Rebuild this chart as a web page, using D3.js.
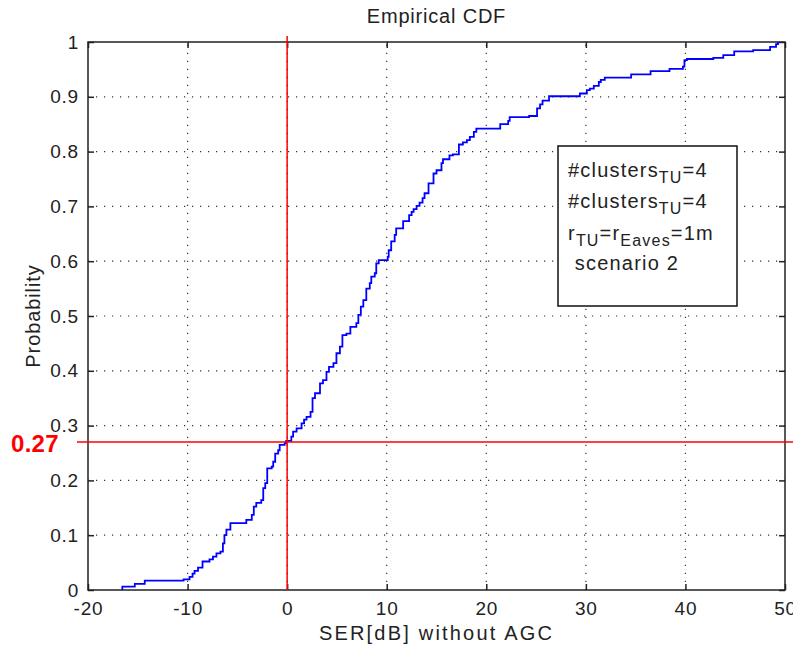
<!DOCTYPE html>
<html>
<head>
<meta charset="utf-8">
<script src="https://cdn.jsdelivr.net/npm/d3@7"></script>
<style>
  html, body { margin: 0; padding: 0; background: #fff; }
  svg { display: block; }
  text { font-family: "Liberation Sans", Arial, sans-serif; fill: #222; }
</style>
</head>
<body>
<svg id="chart" width="793" height="650"></svg>
<script>
// Empirical CDF of SER (dB) without AGC: step breakpoints and cumulative levels
const serSteps = [-16.55, -16.55, -15.3, -14.3, -10.4, -9.8, -9.5, -9.3, -8.95, -8.5,
  -7.8, -7.45, -7.1, -6.7, -6.45, -6.3, -6.1, -5.7, -4.1, -3.55,
  -3.35, -3.1, -2.6, -2.4, -2.2, -2.0, -1.55, -1.4, -1.2, -0.9,
  -0.75, -0.25, -0.1, 0.42, 0.6, 0.95, 1.45, 1.7, 1.95, 2.35,
  2.55, 2.8, 3.3, 3.6, 3.95, 4.2, 4.65, 4.95, 5.3, 5.55,
  5.95, 6.35, 6.95, 7.15, 7.4, 7.65, 7.95, 8.3, 8.45, 8.8,
  8.95, 9.2, 10.1, 10.2, 10.45, 10.8, 10.95, 11.65, 12.25, 12.5,
  12.7, 13.0, 13.3, 13.6, 13.8, 14.2, 14.7, 15.0, 15.5, 15.65,
  16.3, 16.65, 17.25, 17.65, 18.05, 18.35, 18.75, 19.0, 21.4, 22.2,
  22.35, 24.3, 25.1, 25.4, 25.65, 26.3, 29.4, 30.1, 30.4, 30.8,
  31.3, 31.5, 31.9, 34.55, 36.5, 38.4, 39.75, 39.9, 40.15, 42.8,
  43.8, 44.9, 46.8, 48.5, 49.1, 49.3];
const cdfLevels = [0, 0.006, 0.011, 0.017, 0.0195, 0.024, 0.030, 0.035, 0.041, 0.052,
  0.056, 0.061, 0.067, 0.070, 0.085, 0.100, 0.110, 0.122, 0.128, 0.137,
  0.152, 0.159, 0.164, 0.186, 0.195, 0.222, 0.225, 0.234, 0.249, 0.255,
  0.265, 0.268, 0.272, 0.280, 0.289, 0.295, 0.304, 0.311, 0.316, 0.325,
  0.350, 0.359, 0.377, 0.383, 0.398, 0.407, 0.414, 0.432, 0.444, 0.465,
  0.468, 0.480, 0.487, 0.502, 0.517, 0.529, 0.550, 0.560, 0.572, 0.578,
  0.596, 0.602, 0.608, 0.620, 0.636, 0.648, 0.660, 0.673, 0.684, 0.690,
  0.695, 0.701, 0.707, 0.715, 0.724, 0.742, 0.760, 0.766, 0.779, 0.786,
  0.793, 0.795, 0.813, 0.817, 0.821, 0.827, 0.836, 0.842, 0.850, 0.856,
  0.863, 0.865, 0.879, 0.886, 0.893, 0.901, 0.906, 0.912, 0.915, 0.920,
  0.927, 0.931, 0.935, 0.941, 0.947, 0.951, 0.955, 0.967, 0.969, 0.971,
  0.976, 0.983, 0.985, 0.991, 0.996, 1.0];

const xTicks = [-20, -10, 0, 10, 20, 30, 40, 50];
const yTicks = [0, 0.1, 0.2, 0.3, 0.4, 0.5, 0.6, 0.7, 0.8, 0.9, 1];
const markerX = 0;
const markerP = 0.27;
const legendLines = [
  [["#clusters", false], ["TU", true], ["=4", false]],
  [["#clusters", false], ["TU", true], ["=4", false]],
  [["r", false], ["TU", true], ["=r", false], ["Eaves", true], ["=1m", false]],
  [["\u00a0scenario 2", false]]
];

const svg = d3.select("#chart");
const plotL = 88, plotR = 785, plotT = 42, plotB = 590;

const x = d3.scaleLinear().domain([-20, 50]).range([plotL, plotR]);
const y = d3.scaleLinear().domain([0, 1]).range([plotB, plotT]);

// plain ASCII hyphen for negative tick values
const fmtX = d => String(d);
const fmtY = d => (d === 0 || d === 1) ? String(d) : d.toFixed(1);

// dotted grid
const grid = svg.append("g").attr("stroke", "#333").attr("stroke-width", 1.2)
  .attr("stroke-dasharray", "1.2,6.8");
grid.selectAll("line.gx").data(xTicks.slice(1, -1)).join("line")
  .attr("x1", d => x(d)).attr("x2", d => x(d)).attr("y1", plotB).attr("y2", plotT);
grid.selectAll("line.gy").data(yTicks.slice(1, -1)).join("line")
  .attr("x1", plotL).attr("x2", plotR).attr("y1", d => y(d)).attr("y2", d => y(d));

// axes with inward ticks on every side
const tickLen = 6;
const axB = svg.append("g").attr("transform", `translate(0,${plotB})`)
  .call(d3.axisBottom(x).tickValues(xTicks).tickFormat(fmtX).tickSizeInner(-tickLen).tickSizeOuter(0).tickPadding(12));
const axT = svg.append("g").attr("transform", `translate(0,${plotT})`)
  .call(d3.axisTop(x).tickValues(xTicks).tickFormat("").tickSizeInner(-tickLen).tickSizeOuter(0));
const axL = svg.append("g").attr("transform", `translate(${plotL},0)`)
  .call(d3.axisLeft(y).tickValues(yTicks).tickFormat(fmtY).tickSizeInner(-tickLen).tickSizeOuter(0).tickPadding(9));
const axR = svg.append("g").attr("transform", `translate(${plotR},0)`)
  .call(d3.axisRight(y).tickValues(yTicks).tickFormat("").tickSizeInner(-tickLen).tickSizeOuter(0));
[axB, axT, axL, axR].forEach(g => {
  g.select(".domain").remove();
  g.selectAll("line").attr("stroke", "#222").attr("stroke-width", 1.5);
  g.selectAll("text").attr("font-size", 19).attr("fill", "#222")
    .attr("font-family", "'Liberation Sans', Arial, sans-serif").style("letter-spacing", "0.8px");
});

// frame
svg.append("rect").attr("x", plotL).attr("y", plotT).attr("width", plotR - plotL).attr("height", plotB - plotT)
  .attr("fill", "none").attr("stroke", "#222").attr("stroke-width", 1.5);

// ECDF stairs
const pts = serSteps.map((s, i) => [s, cdfLevels[i]]);
const line = d3.line().x(d => x(d[0])).y(d => y(d[1])).curve(d3.curveStepAfter);
svg.append("path").datum(pts).attr("d", line)
  .attr("fill", "none").attr("stroke", "#0000ff").attr("stroke-width", 1.8);

// marker lines
svg.append("line").attr("x1", x(markerX)).attr("x2", x(markerX)).attr("y1", plotT - 6).attr("y2", plotB)
  .attr("stroke", "#ff0000").attr("stroke-width", 1.5);
svg.append("line").attr("x1", 77).attr("x2", 793).attr("y1", y(markerP)).attr("y2", y(markerP))
  .attr("stroke", "#ff0000").attr("stroke-width", 1.5);
svg.append("text").attr("x", 11).attr("y", y(markerP) + 10)
  .attr("font-size", 24).attr("font-weight", "bold").style("fill", "#ff0000")
  .style("letter-spacing", "0.3px")
  .text(d3.format(".2f")(markerP));

// titles
svg.append("text").attr("x", (plotL + plotR) / 2).attr("y", 23).attr("text-anchor", "middle")
  .attr("font-size", 20).style("letter-spacing", "0.8px").text("Empirical CDF");
svg.append("text").attr("x", (plotL + plotR) / 2).attr("y", 640).attr("text-anchor", "middle")
  .attr("font-size", 20).style("letter-spacing", "2.2px").text("SER[dB] without AGC");
svg.append("text").attr("transform", `translate(40,${(plotT + plotB) / 2}) rotate(-90)`)
  .attr("text-anchor", "middle").attr("font-size", 20).style("letter-spacing", "0.9px").text("Probability");

// annotation box
const box = svg.append("g");
box.append("rect").attr("x", 558).attr("y", 146).attr("width", 179).attr("height", 160)
  .attr("fill", "#fff").attr("stroke", "#111").attr("stroke-width", 1.5);
const baselines = [177, 208, 240, 270];
legendLines.forEach((parts, i) => {
  const t = box.append("text").attr("x", 568).attr("y", baselines[i]).attr("font-size", 20)
    .style("letter-spacing", "1.2px");
  let shift = 0;
  parts.forEach(([s, sub]) => {
    const dy = sub ? 6 - shift : -shift;
    shift = sub ? 6 : 0;
    t.append("tspan").attr("dy", dy).attr("font-size", sub ? 16 : 20).text(s);
  });
});
</script>
</body>
</html>
